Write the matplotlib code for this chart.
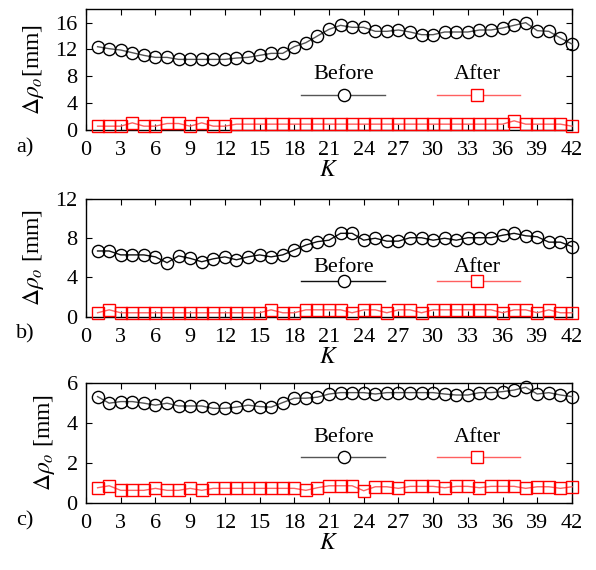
import matplotlib
matplotlib.use("Agg")
import matplotlib.pyplot as plt

plt.rcParams['font.family'] = ['Liberation Serif', 'DejaVu Serif']
plt.rcParams['mathtext.fontset'] = 'stix'

K = list(range(1, 43))

before_a = [12.4, 12.1, 11.9, 11.5, 11.1, 10.8, 10.8, 10.5, 10.5, 10.5, 10.5, 10.5, 10.7, 10.8,
            11.1, 11.4, 11.4, 12.4, 13.0, 14.0, 15.0, 15.6, 15.3, 15.3, 14.7, 14.7, 14.9, 14.6,
            14.2, 14.2, 14.6, 14.6, 14.6, 14.9, 14.9, 15.2, 15.6, 16.0, 14.8, 14.7, 13.7, 12.8]
after_a = [0.5, 0.5, 0.5, 1.0, 0.5, 0.5, 0.9, 0.9, 0.5, 1.0, 0.5, 0.5, 0.8, 0.8,
           0.8, 0.8, 0.8, 0.8, 0.8, 0.8, 0.8, 0.8, 0.8, 0.8, 0.8, 0.8, 0.8, 0.8,
           0.8, 0.8, 0.8, 0.8, 0.8, 0.8, 0.8, 0.8, 1.3, 0.8, 0.8, 0.8, 0.8, 0.5]

before_b = [6.7, 6.7, 6.3, 6.3, 6.3, 6.1, 5.5, 6.2, 5.95, 5.6, 5.9, 6.1, 5.8, 6.1,
            6.3, 6.1, 6.3, 6.8, 7.3, 7.65, 7.8, 8.5, 8.5, 7.8, 8.0, 7.7, 7.7, 8.05,
            8.05, 7.8, 8.0, 7.8, 8.05, 8.05, 8.05, 8.3, 8.5, 8.25, 8.15, 7.6, 7.6, 7.15]
after_b = [0.4, 0.7, 0.4, 0.4, 0.4, 0.4, 0.4, 0.4, 0.4, 0.4, 0.4, 0.4, 0.4, 0.4,
           0.4, 0.7, 0.4, 0.4, 0.7, 0.7, 0.7, 0.7, 0.4, 0.7, 0.7, 0.4, 0.7, 0.7,
           0.4, 0.7, 0.7, 0.7, 0.7, 0.7, 0.7, 0.4, 0.7, 0.7, 0.4, 0.7, 0.4, 0.4]

before_c = [5.33, 5.0, 5.08, 5.08, 5.0, 4.9, 5.0, 4.86, 4.86, 4.86, 4.74, 4.74, 4.8, 4.9,
            4.83, 4.8, 5.03, 5.25, 5.25, 5.3, 5.46, 5.53, 5.53, 5.53, 5.46, 5.53, 5.53, 5.53,
            5.53, 5.53, 5.46, 5.41, 5.41, 5.53, 5.53, 5.58, 5.66, 5.8, 5.46, 5.53, 5.41, 5.33]
after_c = [0.75, 0.85, 0.62, 0.62, 0.62, 0.72, 0.62, 0.62, 0.72, 0.62, 0.72, 0.72, 0.72, 0.72,
           0.72, 0.72, 0.72, 0.72, 0.62, 0.75, 0.85, 0.85, 0.85, 0.6, 0.8, 0.8, 0.72, 0.82,
           0.82, 0.82, 0.75, 0.82, 0.82, 0.75, 0.82, 0.82, 0.82, 0.72, 0.8, 0.8, 0.72, 0.8]

xticks = list(range(0, 43, 3))
panels = [
    dict(before=before_a, after=after_a, ylim=18, yticks=[0, 4, 8, 12, 16], tag='a)',
         ylabel=r'$\Delta\rho_o$[mm]', rect=[0.1443, 0.7728, 0.8154, 0.2109], leg_y=0.29, txt_y=0.455,
         bcol='#555555'),
    dict(before=before_b, after=after_b, ylim=12, yticks=[0, 4, 8, 12], tag='b)',
         ylabel=r'$\Delta\rho_o$ [mm]', rect=[0.1443, 0.4444, 0.8154, 0.2065], leg_y=0.30, txt_y=0.42,
         bcol='#111111'),
    dict(before=before_c, after=after_c, ylim=6, yticks=[0, 2, 4, 6], tag='c)',
         ylabel=r'$\Delta\rho_o$ [mm]', rect=[0.1443, 0.1181, 0.8154, 0.2095], leg_y=0.38, txt_y=0.55,
         bcol='#555555'),
]

fig = plt.figure(figsize=(5.96, 5.7), dpi=100)
fs = 16
ms = 8.8
for p in panels:
    ax = fig.add_axes(p['rect'])
    ax.plot(K, p['before'], color=p['bcol'], lw=1.0, marker='o', ms=ms, mfc='none',
            mec='black', mew=1.0, clip_on=False, zorder=3)
    ax.plot(K, p['after'], color='#ff6060', lw=1.0, marker='s', ms=ms, mfc='none',
            mec='#ff0000', mew=1.0, clip_on=False, zorder=3)
    ax.set_xlim(0, 42)
    ax.set_ylim(0, p['ylim'])
    ax.set_xticks(xticks)
    ax.set_yticks(p['yticks'])
    ax.tick_params(direction='in', top=True, right=True, labelsize=fs, length=4, width=0.8)
    ax.tick_params(axis='x', pad=8)
    ax.tick_params(axis='y', pad=6)
    for s in ax.spines.values():
        s.set_linewidth(1.0)
    ax.set_ylabel(p['ylabel'], fontsize=17, labelpad=7)
    ax.set_xlabel(r'$K$', fontsize=17, labelpad=0)
    ax.text(-0.125, -0.15, p['tag'], transform=ax.transAxes, fontsize=fs, va='center', ha='center')
    # legend (label above handle)
    ax.plot([0.442, 0.615], [p['leg_y']] * 2, transform=ax.transAxes, color=p['bcol'], lw=1.0)
    ax.plot([0.531], [p['leg_y']], transform=ax.transAxes, marker='o', ms=ms, mfc='white',
            mec='black', mew=1.0)
    ax.text(0.531, p['txt_y'], 'Before', transform=ax.transAxes, fontsize=16,
            ha='center', va='center')
    ax.plot([0.722, 0.893], [p['leg_y']] * 2, transform=ax.transAxes, color='#ff6060', lw=1.0)
    ax.plot([0.805], [p['leg_y']], transform=ax.transAxes, marker='s', ms=ms, mfc='white',
            mec='#ff0000', mew=1.0)
    ax.text(0.805, p['txt_y'], 'After', transform=ax.transAxes, fontsize=16,
            ha='center', va='center')

fig.savefig('out.png', dpi=100)
